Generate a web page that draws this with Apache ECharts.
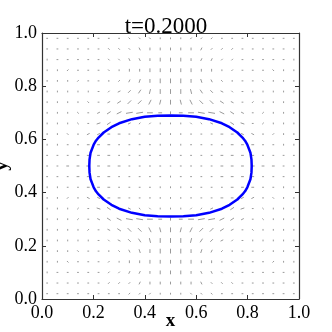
<!DOCTYPE html>
<html>
<head>
<meta charset="utf-8">
<script src="https://cdn.jsdelivr.net/npm/echarts@6/dist/echarts.min.js"></script>
<style>
html,body{margin:0;padding:0;background:#fff;}
#chart{width:332px;height:332px;}
</style>
</head>
<body>
<div id="chart"></div>
<script>
// quiver grid (cell centres)
var gridX = [0.02,0.06,0.10,0.14,0.18,0.22,0.26,0.30,0.34,0.38,0.42,0.46,0.50,0.54,0.58,0.62,0.66,0.70,0.74,0.78,0.82,0.86,0.90,0.94,0.98];
// rows listed top to bottom
var gridY = [0.98,0.94,0.90,0.86,0.82,0.78,0.74,0.70,0.66,0.62,0.58,0.54,0.50,0.46,0.42,0.38,0.34,0.30,0.26,0.22,0.18,0.14,0.10,0.06,0.02];

// velocity components (px, v positive = up)
var U = [
  [1,1,1,1,1,1,1,1,1,1,1,0,0,0,-1,-1,-1,-1,-1,-1,-1,-1,-1,-1,-1],
  [1,1,1,1,1,1,1,1,1,1,0,0,0,0,0,-1,-1,-1,-1,-1,-1,-1,-1,-1,-1],
  [0,1,1,1,1,1,1,1,1,1,0,0,0,0,0,-1,-1,-1,-1,-1,-1,-1,-1,-1,0],
  [0,0,1,1,1,1,1,0,0,0,0,0,0,0,0,0,0,0,-1,-1,-1,-1,-1,0,0],
  [0,0,0,1,1,1,0,-1,-1,-1,0,0,0,0,0,1,1,1,0,-1,-1,-1,0,0,0],
  [0,0,0,0,0,-1,-1,-2,-2,-2,-1,0,0,0,1,2,2,2,1,1,0,0,0,0,0],
  [0,0,0,0,-1,-1,-2,-3,-3,-3,-2,-1,0,1,2,3,3,3,2,1,1,0,0,0,0],
  [0,0,0,-1,-1,-2,-3,-4,-6,-6,-5,-3,0,3,5,6,6,4,3,2,1,1,0,0,0],
  [0,0,0,-1,-1,-3,-3,-2,-2,-1,-1,0,0,0,1,1,2,2,3,3,1,1,0,0,0],
  [0,0,-1,-1,-2,-2,-2,-2,-1,-1,-1,0,0,0,1,1,1,2,2,2,2,1,1,0,0],
  [0,0,-1,-1,-2,-2,-2,-1,-1,-1,-1,0,0,0,1,1,1,1,2,2,2,1,1,0,0],
  [-1,-1,-1,-2,-2,-2,-2,-1,-1,-1,-1,-1,0,1,1,1,1,2,2,2,2,1,1,1,1],
  [-1,-1,-2,-2,-3,-2,-2,-2,-1,-1,-1,-1,0,1,1,1,1,2,2,2,3,2,2,1,1],
  [-1,-1,-1,-2,-2,-2,-2,-1,-1,-1,-1,-1,0,1,1,1,1,2,2,2,2,1,1,1,1],
  [0,0,-1,-1,-2,-2,-2,-1,-1,-1,-1,0,0,0,1,1,1,1,2,2,2,1,1,0,0],
  [0,0,-1,-1,-2,-2,-2,-2,-1,-1,-1,0,0,0,1,1,1,2,2,2,2,1,1,0,0],
  [0,0,0,-1,-1,-3,-3,-2,-2,-1,-1,0,0,0,1,1,2,2,3,3,1,1,0,0,0],
  [0,0,0,-1,-1,-2,-3,-4,-6,-6,-5,-3,0,3,5,6,6,4,3,2,1,1,0,0,0],
  [0,0,0,0,-1,-1,-2,-3,-3,-3,-2,-1,0,1,2,3,3,3,2,1,1,0,0,0,0],
  [0,0,0,0,0,-1,-1,-2,-2,-2,-1,0,0,0,1,2,2,2,1,1,0,0,0,0,0],
  [0,0,0,1,1,1,0,-1,-1,-1,0,0,0,0,0,1,1,1,0,-1,-1,-1,0,0,0],
  [0,0,1,1,1,1,1,0,0,0,0,0,0,0,0,0,0,0,-1,-1,-1,-1,-1,0,0],
  [0,1,1,1,1,1,1,1,1,1,0,0,0,0,0,-1,-1,-1,-1,-1,-1,-1,-1,-1,0],
  [1,1,1,1,1,1,1,1,1,1,0,0,0,0,0,-1,-1,-1,-1,-1,-1,-1,-1,-1,-1],
  [1,1,1,1,1,1,1,1,1,1,1,0,0,0,-1,-1,-1,-1,-1,-1,-1,-1,-1,-1,-1]
];
var V = [
  [0,0,0,0,0,0,0,0,-1,-1,-1,-1,-1,-1,-1,-1,-1,0,0,0,0,0,0,0,0],
  [0,0,0,0,0,0,-1,-1,-1,-2,-2,-2,-2,-2,-2,-2,-1,-1,-1,0,0,0,0,0,0],
  [1,0,0,0,0,0,-1,-1,-2,-2,-2,-3,-3,-3,-2,-2,-2,-1,-1,0,0,0,0,0,1],
  [1,1,1,0,0,0,-1,-1,-2,-2,-3,-3,-3,-3,-3,-2,-2,-1,-1,0,0,0,1,1,1],
  [1,1,1,1,0,0,-1,-1,-2,-3,-3,-4,-4,-4,-3,-3,-2,-1,-1,0,0,1,1,1,1],
  [1,1,1,1,1,0,-1,-1,-2,-3,-4,-4,-4,-4,-4,-3,-2,-1,-1,0,1,1,1,1,1],
  [1,1,1,1,1,0,-1,-2,-3,-3,-4,-4,-4,-4,-4,-3,-3,-2,-1,0,1,1,1,1,1],
  [1,1,1,1,0,-1,-2,-2,-1,-1,0,0,-2,0,0,-1,-1,-2,-2,-1,0,1,1,1,1],
  [1,1,1,1,0,-1,-2,-1,-1,-1,-1,-1,-1,-1,-1,-1,-1,-1,-2,-1,0,1,1,1,1],
  [1,1,1,0,-1,-1,0,0,0,0,0,-1,-1,-1,0,0,0,0,0,-1,-1,0,1,1,1],
  [1,1,0,0,0,0,0,0,0,0,0,-1,-1,-1,0,0,0,0,0,0,0,0,0,1,1],
  [0,0,0,0,0,0,0,0,0,0,0,0,-1,0,0,0,0,0,0,0,0,0,0,0,0],
  [0,0,0,0,0,0,0,0,0,0,0,0,0,0,0,0,0,0,0,0,0,0,0,0,0],
  [0,0,0,0,0,0,0,0,0,0,0,0,1,0,0,0,0,0,0,0,0,0,0,0,0],
  [-1,-1,0,0,0,0,0,0,0,0,0,1,1,1,0,0,0,0,0,0,0,0,0,-1,-1],
  [-1,-1,-1,0,1,1,0,0,0,0,0,1,1,1,0,0,0,0,0,1,1,0,-1,-1,-1],
  [-1,-1,-1,-1,0,1,2,1,1,1,1,1,1,1,1,1,1,1,2,1,0,-1,-1,-1,-1],
  [-1,-1,-1,-1,0,1,2,2,1,1,0,0,2,0,0,1,1,2,2,1,0,-1,-1,-1,-1],
  [-1,-1,-1,-1,-1,0,1,2,3,3,4,4,4,4,4,3,3,2,1,0,-1,-1,-1,-1,-1],
  [-1,-1,-1,-1,-1,0,1,1,2,3,4,4,4,4,4,3,2,1,1,0,-1,-1,-1,-1,-1],
  [-1,-1,-1,-1,0,0,1,1,2,3,3,4,4,4,3,3,2,1,1,0,0,-1,-1,-1,-1],
  [-1,-1,-1,0,0,0,1,1,2,2,3,3,3,3,3,2,2,1,1,0,0,0,-1,-1,-1],
  [-1,0,0,0,0,0,1,1,2,2,2,3,3,3,2,2,2,1,1,0,0,0,0,0,-1],
  [0,0,0,0,0,0,1,1,1,2,2,2,2,2,2,2,1,1,1,0,0,0,0,0,0],
  [0,0,0,0,0,0,0,0,1,1,1,1,1,1,1,1,1,0,0,0,0,0,0,0,0]
];

// interface contour
var curveX = [0.816,0.815,0.811,0.799,0.790,0.78,0.76,0.73,0.70,0.65,0.60,0.55,0.50,
              0.45,0.40,0.35,0.30,0.27,0.24,0.22,0.21,0.201,0.189,0.185,0.184,
              0.185,0.189,0.201,0.21,0.22,0.24,0.27,0.30,0.35,0.40,0.45,0.50,
              0.55,0.60,0.65,0.70,0.73,0.76,0.78,0.79,0.799,0.811,0.815,0.816];
var curveY = [0.50,0.525,0.55,0.58,0.595,0.607,0.626,0.646,0.6605,0.676,0.685,0.689,0.69,
              0.689,0.685,0.676,0.6605,0.646,0.626,0.607,0.595,0.58,0.55,0.525,0.50,
              0.475,0.45,0.42,0.405,0.393,0.374,0.354,0.3395,0.324,0.315,0.311,0.31,
              0.311,0.315,0.324,0.3395,0.354,0.374,0.393,0.405,0.42,0.45,0.475,0.50];

var tickVals = [0, 0.2, 0.4, 0.6, 0.8, 1.0];
var title = 't=0.2000';

var quiver = [];
for (var r = 0; r < gridY.length; r++) {
  for (var c = 0; c < gridX.length; c++) {
    quiver.push([gridX[c], gridY[r], U[r][c], V[r][c]]);
  }
}
var curve = curveX.map(function (x, i) { return [x, curveY[i]]; });

var serif = 'Liberation Serif';
var spine = '#333';

function axisCommon(pos, showLabel) {
  return {
    type: 'value', min: 0, max: 1, interval: 0.2, position: pos,
    axisLine: { show: true, onZero: false, lineStyle: { color: spine, width: 1.2 } },
    axisTick: { show: true, inside: true, length: 4, lineStyle: { color: spine, width: 1 } },
    splitLine: { show: false },
    axisLabel: {
      show: showLabel, color: '#000', fontFamily: serif, fontSize: 18, margin: 5,
      formatter: function (v) { return v.toFixed(1); }
    }
  };
}

var chart = echarts.init(document.getElementById('chart'));
var xa = axisCommon('bottom', true);
xa.name = 'x'; xa.nameLocation = 'middle'; xa.nameGap = 13; xa.nameMoveOverlap = false;
xa.nameTextStyle = { fontFamily: serif, fontSize: 19, fontWeight: 'bold', color: '#000' };
var ya = axisCommon('left', true);
ya.name = 'y'; ya.nameLocation = 'middle'; ya.nameGap = 30; ya.nameRotate = 90; ya.nameMoveOverlap = false;
ya.nameTextStyle = { fontFamily: serif, fontSize: 19, fontWeight: 'bold', color: '#000' };

chart.setOption({
  animation: false,
  title: {
    text: title, left: 'center', top: 10,
    textStyle: { fontFamily: serif, fontSize: 23, fontWeight: 'normal', color: '#000' }
  },
  grid: { left: 42, right: 33, top: 33, bottom: 33, containLabel: false, outerBoundsMode: 'none' },
  xAxis: [xa, axisCommon('top', false)],
  yAxis: [ya, axisCommon('right', false)],
  series: [
    {
      type: 'custom', silent: true, xAxisIndex: 0, yAxisIndex: 0,
      data: quiver,
      renderItem: function (params, api) {
        var p = api.coord([api.value(0), api.value(1)]);
        var u = api.value(2), v = api.value(3);
        if (u === 0 && v === 0) { u = 0.6; }
        return {
          type: 'line',
          shape: { x1: p[0] - u / 2, y1: p[1] + v / 2, x2: p[0] + u / 2, y2: p[1] - v / 2 },
          style: { stroke: '#999', lineWidth: 1, lineCap: 'round' }
        };
      }
    },
    {
      type: 'line', silent: true, xAxisIndex: 0, yAxisIndex: 0,
      data: curve, showSymbol: false, symbol: 'none', smooth: false,
      lineStyle: { color: '#0000ff', width: 2.5 }
    }
  ]
});
</script>
</body>
</html>
